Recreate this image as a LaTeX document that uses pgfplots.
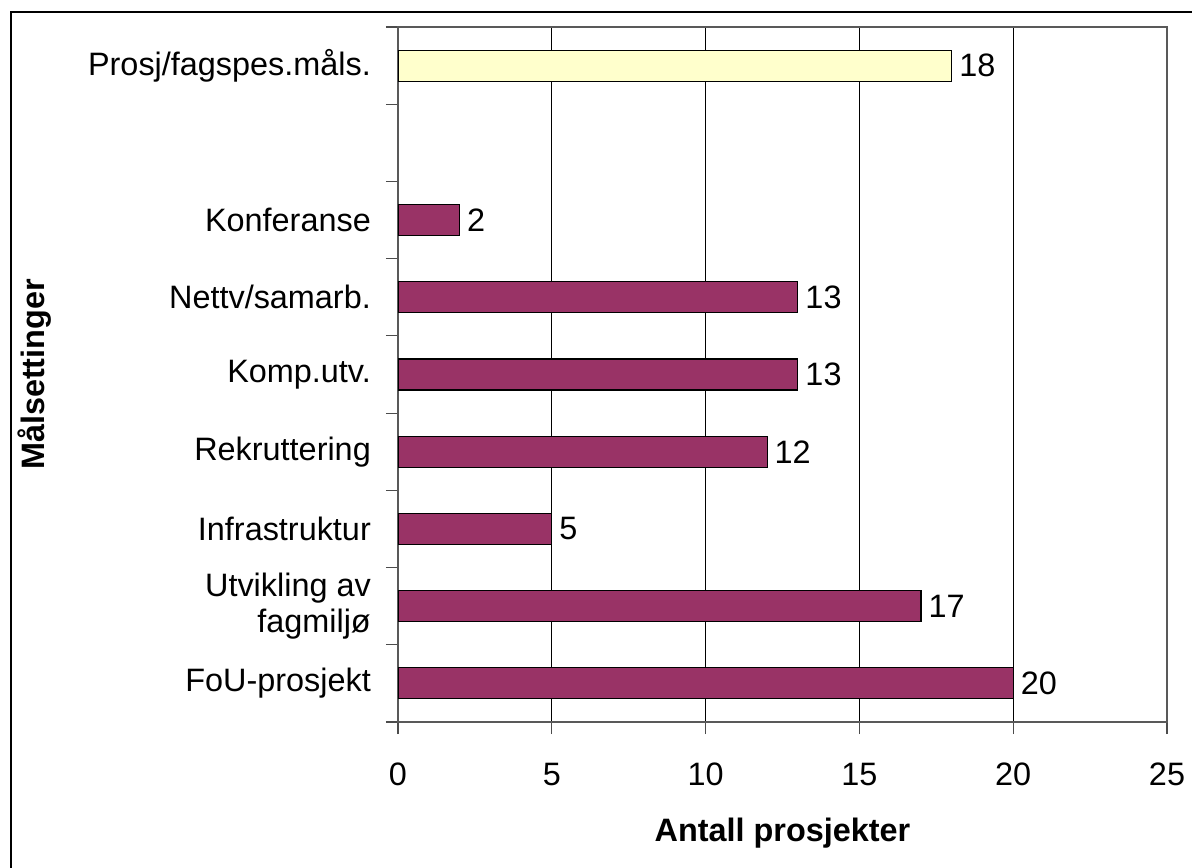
\documentclass[border=0pt]{standalone}
\usepackage{fontspec}
\setmainfont{Liberation Sans}
\usepackage{pgfplots}
\pgfplotsset{compat=1.18}
\definecolor{plum}{RGB}{153,51,102}
\definecolor{paleyellow}{RGB}{255,255,204}
\begin{document}
\fontsize{16.2}{18}\selectfont
\begin{tikzpicture}
\useasboundingbox (0,0) rectangle (596pt,433.5pt);
\draw[line width=0.9pt] (5.5pt,-10pt) -- (5.5pt,427.5pt) -- (610pt,427.5pt);
\begin{axis}[
  at={(199pt,72.5pt)}, anchor=south west,
  scale only axis, width=384.5pt, height=347.5pt,
  xbar, bar width=15.5pt, bar shift=0pt,
  xmin=0, xmax=25, ymin=0.5, ymax=9.5,
  xtick={0,5,...,25},
  ytick={0.5,1.5,...,9.5}, yticklabels={},
  extra y ticks={1,2,3,4,5,6,7,9},
  extra y tick labels={FoU-prosjekt,{Utvikling av\\fagmiljø},Infrastruktur,Rekruttering,Komp.utv.,Nettv/samarb.,Konferanse,Prosj/fagspes.måls.},
  extra y tick style={major tick length=0pt, yticklabel style={align=right, anchor=east, xshift=-8pt}},
  /pgf/number format/assume math mode=true,
  tick align=outside, major tick length=6pt,
  tick style={gray!60!black, line width=0.6pt},
  xtick pos=bottom, ytick pos=left,
  xmajorgrids, major grid style={black, line width=0.5pt},
  axis line style={gray!70!black, line width=0.7pt},
  xticklabel style={yshift=-9pt},
  xlabel={\textbf{Antall prosjekter}},
  ylabel={\textbf{Målsettinger}},
  xlabel style={at={(axis description cs:0.5,-0.16)}, anchor=center},
  ylabel style={at={(axis description cs:-0.472,0.5)}, anchor=center},
  nodes near coords, nodes near coords style={anchor=west, inner sep=3.5pt, black},
  point meta=x,
]
\addplot[fill=plum, draw=black, line width=0.6pt] coordinates {
  (20,1) (17,2) (5,3) (12,4) (13,5) (13,6) (2,7)
};
\addplot[fill=paleyellow, draw=black, line width=0.6pt] coordinates {
  (18,9)
};
\end{axis}
\end{tikzpicture}
\end{document}
